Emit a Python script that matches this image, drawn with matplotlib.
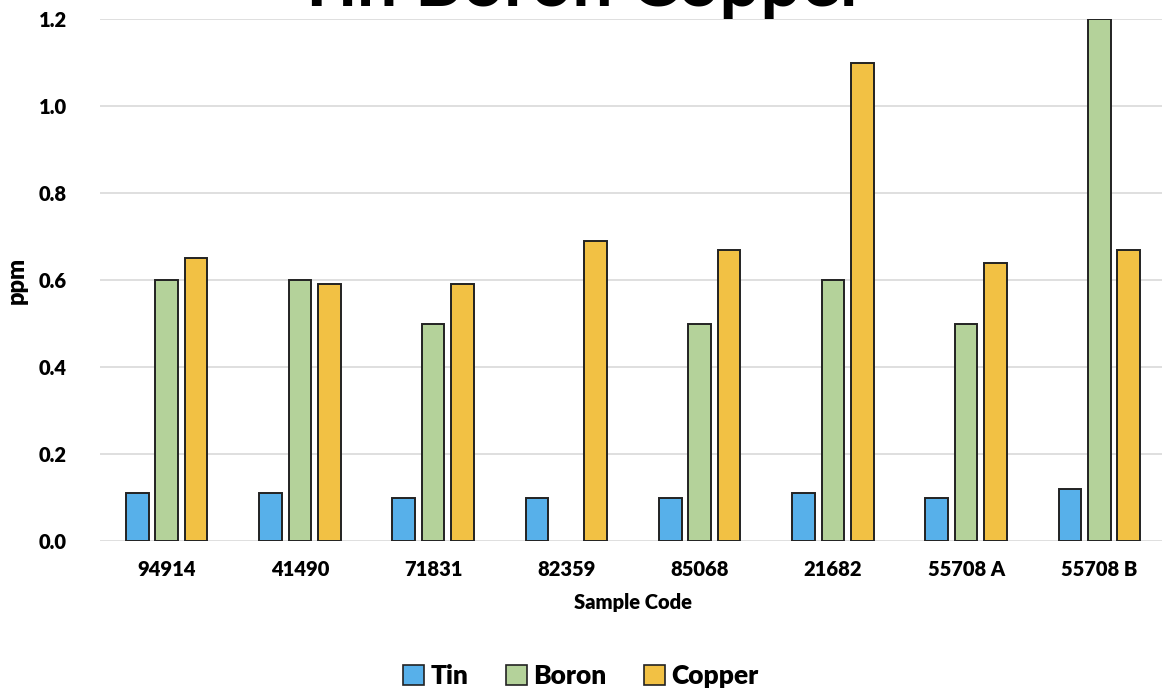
import numpy as np
import matplotlib.pyplot as plt
from matplotlib.patches import Patch

# sample codes and measured values (ppm)
samples = ['94914', '41490', '71831', '82359', '85068', '21682', '55708 A', '55708 B']
tin = [0.11, 0.11, 0.10, 0.10, 0.10, 0.11, 0.10, 0.12]
boron = [0.60, 0.60, 0.50, 0.0, 0.50, 0.60, 0.50, 1.20]
copper = [0.65, 0.59, 0.59, 0.69, 0.67, 1.10, 0.64, 0.67]

series_names = ['Tin', 'Boron', 'Copper']
colors = ['#57B0EA', '#B4D29A', '#F2C144']

plt.rcParams['font.family'] = ['Lato', 'DejaVu Sans']

fig = plt.figure(figsize=(11.62, 6.95), dpi=100)
ax = fig.add_axes([100 / 1162, 1 - 541 / 695, 1066 / 1162, 522 / 695])

x = np.arange(len(samples))
width = 0.17
step = 0.22
for i, (vals, col) in enumerate(zip([tin, boron, copper], colors)):
    xs = x + (i - 1) * step
    # skip missing (zero) values so no outline is drawn
    mask = np.array(vals) > 0
    ax.bar(xs[mask], np.array(vals)[mask], width=width, color=col,
           edgecolor='#222222', linewidth=1.4, zorder=3)

yt = np.arange(0, 1.21, 0.2)
ax.set_xlim(-0.5, len(samples) - 0.5)
ax.set_ylim(0, 1.2)
ax.set_yticks(yt)
ax.set_yticklabels([f'{v:.1f}' for v in yt], fontweight='heavy', fontsize=14.5)
ax.set_xticks(x)
ax.set_xticklabels(samples, fontweight='heavy', fontsize=14.5)
ax.grid(axis='y', color='#D9D9D9', linewidth=1.2, zorder=0)
ax.set_axisbelow(True)
for s in ax.spines.values():
    s.set_visible(False)
ax.tick_params(axis='both', length=0)
ax.tick_params(axis='y', pad=24)
ax.tick_params(axis='x', pad=14)

ax.set_xlabel('Sample Code', fontsize=14.5, fontweight='heavy', labelpad=10)
ax.set_ylabel('ppm', fontsize=17, fontweight='heavy')
ax.yaxis.set_label_coords(-0.068, 0.5)

fig.text(0.5, 1 - 6 / 695, 'Tin Boron Copper', ha='center', va='baseline',
         fontsize=52, fontweight='bold')

handles = [Patch(facecolor=c, edgecolor='#222222', linewidth=1.2) for c in colors]
fig.legend(handles, series_names, loc='center', bbox_to_anchor=(0.5, 1 - 676 / 695),
           ncol=3, frameon=False, prop={'size': 19, 'weight': 'heavy'},
           handlelength=0.8, handleheight=0.8, handletextpad=0.25, columnspacing=1.4)

fig.savefig('out.png', dpi=100)
